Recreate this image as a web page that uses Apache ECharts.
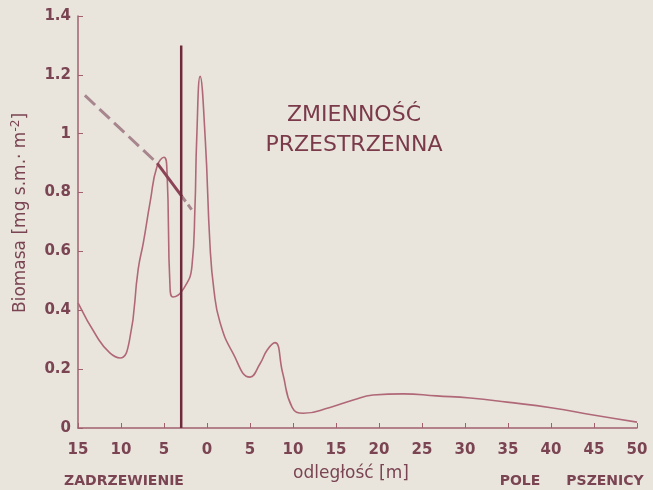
<!DOCTYPE html>
<html>
<head>
<meta charset="utf-8">
<script src="https://cdn.jsdelivr.net/npm/echarts@6/dist/echarts.min.js"></script>
<style>
  html, body { margin: 0; padding: 0; background: #e9e5dd; }
  #chart { width: 653px; height: 490px; }
</style>
</head>
<body>
<div id="chart"></div>
<script>
// odległość [m]: ujemne = zadrzewienie, dodatnie = pole pszenicy
const biomasaCurve = [
    [-15, 0.425], [-12.8, 0.31], [-11.3, 0.255], [-10.1, 0.238], [-9, 0.30],
    [-8.0, 0.54], [-7.4, 0.63], [-6.6, 0.77], [-5.8, 0.89], [-5.0, 0.92],
    [-4.65, 0.87], [-4.3, 0.48], [-3.95, 0.445], [-2.8, 0.47], [-1.75, 0.55],
    [-1.4, 0.75], [-1.2, 0.98], [-0.8, 1.195], [-0.2, 0.98], [0.35, 0.62],
    [0.8, 0.47], [1.5, 0.36], [3.0, 0.255], [5.0, 0.173], [6.2, 0.22],
    [7.0, 0.265], [7.9, 0.29], [8.8, 0.187], [9.9, 0.07], [11.2, 0.05],
    [14.3, 0.07], [17, 0.095], [19.3, 0.112], [22.8, 0.116],
    [26.7, 0.109], [30.6, 0.102], [34.9, 0.088], [40.2, 0.068], [44.9, 0.044],
    [50, 0.02]
]
// linia trendu: jasne odcinki przerywane, ciemny odcinek w środku
const trendLight1 = [[-14.2, 1.13], [-5.8, 0.90]]
const trendDark = [[-5.8, 0.90], [-2.9, 0.786]]
const trendLight2 = [[-2.9, 0.786], [-1.6, 0.735]]
const edgeLine = [[-3, 0], [-3, 1.30]]

const xTicks = { min: -15, max: 50, step: 5 }
const yTicks = { min: 0, max: 1.4, step: 0.2 }

const textColor = "#7a4452"
const axisColor = "#a0606e"
const font = "DejaVu Sans"

const chart = echarts.init(document.getElementById("chart"))

const option = {
    backgroundColor: "#e9e5dd",
    animation: false,
    grid: { left: 78, right: 16, top: 16, bottom: 62 },
    xAxis: {
        type: "value",
        min: xTicks.min,
        max: xTicks.max,
        interval: xTicks.step,
        splitLine: { show: false },
        axisLine: { onZero: false, lineStyle: { color: axisColor, width: 1.5 } },
        axisTick: { inside: true, length: 5, lineStyle: { color: axisColor } },
        axisLabel: {
            color: textColor,
            fontFamily: font,
            fontWeight: "bold",
            fontSize: 15,
            margin: 15,
            formatter: v => String(Math.abs(v))
        }
    },
    yAxis: {
        type: "value",
        min: yTicks.min,
        max: yTicks.max,
        interval: yTicks.step,
        splitLine: { show: false },
        axisLine: { show: true, onZero: false, lineStyle: { color: axisColor, width: 1.5 } },
        axisTick: { show: true, inside: true, length: 5, lineStyle: { color: axisColor } },
        axisLabel: {
            color: textColor,
            fontFamily: font,
            fontWeight: "bold",
            fontSize: 15,
            margin: 7,
            formatter: v => (Math.round(v * 10) / 10).toString()
        },
        name: "{a|Biomasa [mg s.m.· m}{s|-2}{a|]}",
        nameLocation: "middle",
        nameGap: 47,
        nameTextStyle: {
            padding: [0, 0, 0, 18],
            rich: {
                a: { color: textColor, fontFamily: font, fontSize: 17 },
                s: { color: textColor, fontFamily: font, fontSize: 12, padding: [0, 0, 9, 0] }
            }
        }
    },
    series: [
        {
            type: "line",
            data: biomasaCurve,
            smooth: 0.5,
            symbol: "none",
            lineStyle: { color: "#b06878", width: 1.6 }
        },
        {
            type: "line",
            data: trendLight1,
            symbol: "none",
            lineStyle: { color: "#a8868e", width: 3, type: [14, 6] }
        },
        {
            type: "line",
            data: trendDark,
            symbol: "none",
            lineStyle: { color: "#8a4455", width: 3 }
        },
        {
            type: "line",
            data: trendLight2,
            symbol: "none",
            lineStyle: { color: "#a8868e", width: 3, type: [6, 4] }
        },
        {
            type: "line",
            data: edgeLine,
            symbol: "none",
            lineStyle: { color: "#6e2a3a", width: 2.5 }
        }
    ],
    graphic: [
        {
            type: "text", x: 354, y: 115,
            style: { text: "ZMIENNOŚĆ", fill: "#7a3a4a", font: "22px 'DejaVu Sans'", align: "center", verticalAlign: "middle" }
        },
        {
            type: "text", x: 354, y: 145,
            style: { text: "PRZESTRZENNA", fill: "#7a3a4a", font: "22px 'DejaVu Sans'", align: "center", verticalAlign: "middle" }
        },
        {
            type: "text", x: 124, y: 481,
            style: { text: "ZADRZEWIENIE", fill: textColor, font: "bold 14px 'DejaVu Sans'", align: "center", verticalAlign: "middle" }
        },
        {
            type: "text", x: 351, y: 474,
            style: { text: "odległość [m]", fill: textColor, font: "17px 'DejaVu Sans'", align: "center", verticalAlign: "middle" }
        },
        {
            type: "text", x: 520, y: 481,
            style: { text: "POLE", fill: textColor, font: "bold 14px 'DejaVu Sans'", align: "center", verticalAlign: "middle" }
        },
        {
            type: "text", x: 605, y: 481,
            style: { text: "PSZENICY", fill: textColor, font: "bold 14px 'DejaVu Sans'", align: "center", verticalAlign: "middle" }
        }
    ]
}

chart.setOption(option)
</script>
</body>
</html>
